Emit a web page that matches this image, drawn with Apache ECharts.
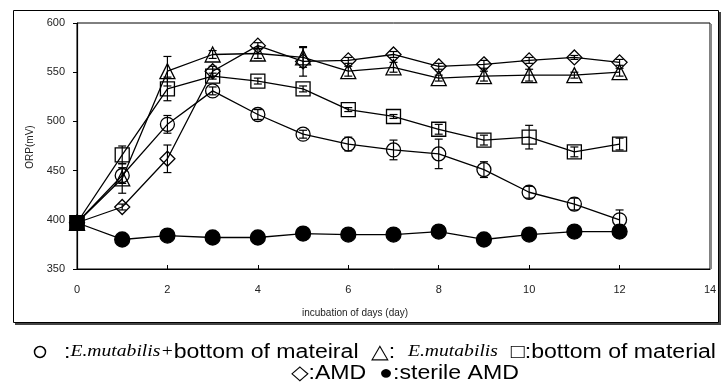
<!DOCTYPE html>
<html lang="en">
<head>
<meta charset="UTF-8">
<title>ORP</title>
<style>
  * { margin: 0; padding: 0; }
  body { background: #fff; }
  #main { width: 723px; height: 392px; }
</style>
</head>
<body>
<div id="main"></div>
<script src="https://cdn.jsdelivr.net/npm/echarts@6/dist/echarts.min.js"></script>
<script>
// days of incubation
var days = [0, 1, 2, 3, 4, 5, 6, 7, 8, 9, 10, 11, 12];
var xTicks = [0, 2, 4, 6, 8, 10, 12, 14];
var yTicks = [350, 400, 450, 500, 550, 600];

// ORP (mV) and error bars per series
var circleVals  = [397, 445, 497, 531, 507, 487, 477, 471, 467, 451, 428, 416, 400];
var circleErr   = [0, 8, 9, 4, 5, 4, 7, 10, 15, 8, 6, 6, 10];
var triVals     = [397, 442, 551, 568, 569, 565, 551, 555, 544, 546, 547, 547, 550];
var triErr      = [0, 15, 15, 4, 5, 10, 5, 5, 3, 5, 6, 3, 4];
var squareVals  = [397, 466, 533, 546, 541, 533, 512, 505, 492, 481, 484, 469, 477];
var squareErr   = [0, 9, 12, 3, 3, 3, 2, 2, 5, 5, 12, 5, 6];
var diamondVals = [397, 413, 462, 551, 577, 561, 562, 568, 556, 558, 562, 565, 560];
var diamondErr  = [0, 3, 14, 5, 3, 15, 3, 3, 3, 4, 3, 2, 3];
var sterileVals = [397, 380, 384, 382, 382, 386, 385, 385, 388, 380, 385, 388, 388];
var sterileErr  = [0, 2, 2, 2, 2, 2, 2, 2, 2, 2, 5, 5, 5];

// legend text pieces (s = plain, i = italic)
var legendLine1 = [['s', ':'], ['i', 'E.mutabilis+'], ['s', 'bottom of mateiral  △:  '], ['i', 'E.mutabilis'], ['s', '  □:bottom of material']];
var legendLine2 = '◇:AMD  ●:sterile AMD';

var myChart = echarts.init(document.getElementById('main'));

function pairs(vals) {
  return days.map(function (d, i) { return [d, vals[i]]; });
}
function errData(vals, errs) {
  return days.map(function (d, i) { return [d, vals[i], errs[i]]; });
}

//error bar: vertical line + caps
function renderErr(params, api) {
  var x = api.value(0), y = api.value(1), e = api.value(2);
  if (!e) return;
  var hi = api.coord([x, y + e]);
  var lo = api.coord([x, y - e]);
  var w = 4;
  var st = { stroke: '#000', lineWidth: 1.2 };
  return {
    type: 'group',
    children: [
      { type: 'line', shape: { x1: hi[0], y1: hi[1], x2: lo[0], y2: lo[1] }, style: st },
      { type: 'line', shape: { x1: hi[0] - w, y1: hi[1], x2: hi[0] + w, y2: hi[1] }, style: st },
      { type: 'line', shape: { x1: lo[0] - w, y1: lo[1], x2: lo[0] + w, y2: lo[1] }, style: st }
    ]
  };
}

function lineSeries(name, vals, symbol, size, filled) {
  return {
    type: 'line',
    name: name,
    data: pairs(vals),
    symbol: symbol,
    symbolSize: size,
    showAllSymbol: true,
    animation: false,
    z: 3,
    lineStyle: { color: '#000', width: 1.3 },
    itemStyle: {
      color: filled ? '#000' : 'rgba(0,0,0,0)',
      borderColor: '#000',
      borderWidth: 1.3
    }
  };
}

function errSeries(vals, errs) {
  return {
    type: 'custom',
    renderItem: renderErr,
    data: errData(vals, errs),
    animation: false,
    z: 4
  };
}

var sterile = lineSeries('sterile AMD', sterileVals, 'circle', 15, true);
sterile.data[0] = { value: sterile.data[0], symbol: 'rect', symbolSize: 14 };

var fonts = { s: '20px "Liberation Sans"', i: 'italic 17px "Liberation Serif"' };

// fit legend line 1 between x=64 and x=716
var ctx = document.createElement('canvas').getContext('2d');
var line1W = 0;
var line1Txt = legendLine1.map(function (p) {
  ctx.font = fonts[p[0]];
  line1W += ctx.measureText(p[1]).width;
  return '{' + p[0] + '|' + p[1] + '}';
}).join('');
var sx = (716 - 64) / line1W;
var richFonts = { s: { font: fonts.s, fill: '#000' }, i: { font: fonts.i, fill: '#000' } };

var option = {
  animation: false,
  grid: {
    left: 77, top: 23, right: 13, bottom: 123,
    show: true, borderColor: '#000', borderWidth: 1
  },
  xAxis: {
    type: 'value', min: 0, max: 14, interval: 2,
    axisLine: { lineStyle: { color: '#000', width: 1.2 } },
    axisTick: { inside: true, length: 4, lineStyle: { color: '#000' } },
    axisLabel: { margin: 15, color: '#222', fontSize: 11, fontFamily: 'Liberation Sans' },
    splitLine: { show: false }
  },
  yAxis: {
    type: 'value', min: 350, max: 600, interval: 50,
    axisLine: { show: true, lineStyle: { color: '#000', width: 1.2 } },
    axisTick: { show: true, inside: false, length: 4, lineStyle: { color: '#000' } },
    axisLabel: { margin: 12, color: '#222', fontSize: 11, fontFamily: 'Liberation Sans' },
    splitLine: { show: false }
  },
  graphic: [
    { type: 'rect', z: -2, shape: { x: 15, y: 12, width: 706, height: 313 }, style: { fill: '#444' } },
    { type: 'rect', z: -1, shape: { x: 13.5, y: 10.5, width: 705, height: 312 }, style: { fill: '#fff', stroke: '#000', lineWidth: 1 } },
    { type: 'rect', z: 1, shape: { x: 710, y: 24, width: 2, height: 245 }, style: { fill: '#888' } },
    {
      type: 'text', x: 30, y: 147, rotation: Math.PI / 2,
      style: { text: 'ORP(mV)', fill: '#222', font: '10px "Liberation Sans"', align: 'center', verticalAlign: 'middle' }
    },
    {
      type: 'text', x: 355, y: 313,
      style: { text: 'incubation of days (day)', fill: '#222', font: '10px "Liberation Sans"', align: 'center', verticalAlign: 'middle' }
    },
    { type: 'circle', shape: { cx: 40, cy: 352, r: 5.5 }, style: { fill: 'none', stroke: '#000', lineWidth: 1.5 } },
    {
      type: 'text', x: 64, y: 352, scaleX: sx,
      style: { text: line1Txt, verticalAlign: 'middle', rich: richFonts }
    },
    {
      type: 'text', x: 405, y: 373, scaleX: sx,
      style: { text: legendLine2, font: fonts.s, fill: '#000', align: 'center', verticalAlign: 'middle' }
    }
  ],
  series: [
    lineSeries('E.mutabilis+bottom', circleVals, 'circle', 14, false),
    lineSeries('E.mutabilis', triVals, 'triangle', 15, false),
    lineSeries('bottom', squareVals, 'rect', 14, false),
    lineSeries('AMD', diamondVals, 'diamond', 15, false),
    sterile,
    errSeries(circleVals, circleErr),
    errSeries(triVals, triErr),
    errSeries(squareVals, squareErr),
    errSeries(diamondVals, diamondErr),
    errSeries(sterileVals, sterileErr)
  ]
};
myChart.setOption(option);
</script>
</body>
</html>
